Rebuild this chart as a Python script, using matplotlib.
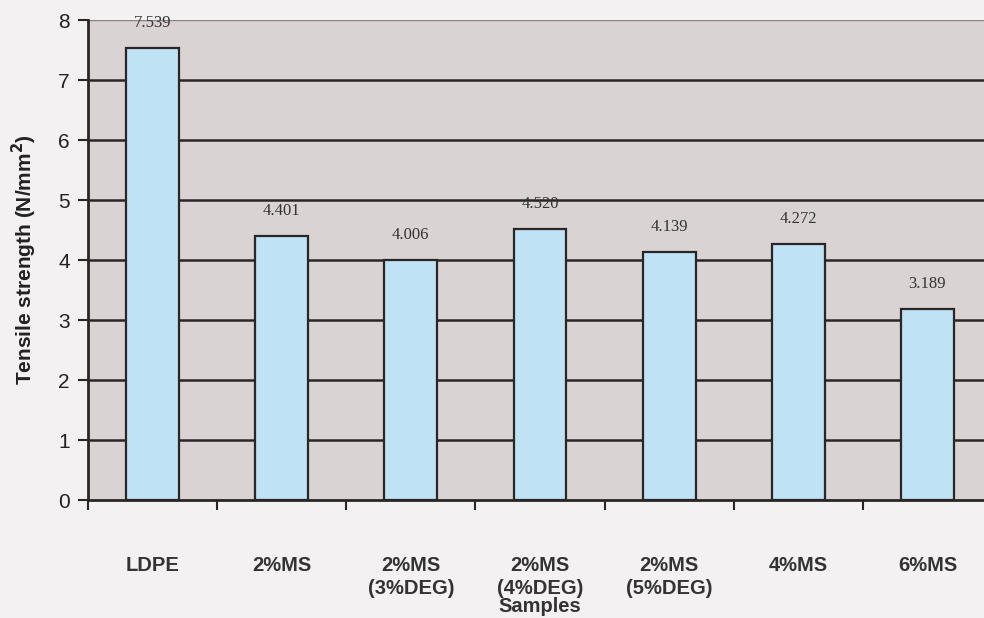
import matplotlib.pyplot as plt
import numpy as np

samples = ["LDPE", "2%MS", "2%MS\n(3%DEG)", "2%MS\n(4%DEG)", "2%MS\n(5%DEG)", "4%MS", "6%MS"]
strength = [7.539, 4.401, 4.006, 4.520, 4.139, 4.272, 3.189]
value_labels = ["7.539", "4.401", "4.006", "4.520", "4.139", "4.272", "3.189"]

fig = plt.figure(figsize=(9.84, 6.18), dpi=100)
fig.patch.set_facecolor("#f3f1f1")

# axes runs past the right edge of the figure, as in the original crop
ax = fig.add_axes([88 / 984, 1 - 500 / 618, 904 / 984, 480 / 618])
ax.set_facecolor("#d9d3d3")

x = np.arange(len(samples))
for y in range(1, 8):
    ax.axhline(y, color="#2b2624", lw=1.8, zorder=1)
ax.axhline(8, color="#8a8484", lw=1.0, zorder=1)

ax.bar(x, strength, width=0.41, color="#bfe3f5", edgecolor="#2b2624", linewidth=1.6, zorder=2)

for xi, v, lab in zip(x, strength, value_labels):
    ax.text(xi, v + 0.28, lab, ha="center", va="bottom", fontsize=12,
            family="Liberation Serif", color="#333")

ax.set_xlim(-0.5, len(samples) - 0.5)
ax.set_ylim(0, 8)
ax.set_yticks(range(0, 9))
ax.tick_params(axis="y", labelsize=15, length=7, width=1.5, color="#2b2624", pad=6,
               labelcolor="#222")
for t in ax.get_yticklabels():
    t.set_family("Liberation Sans")

ax.set_xticks(x)
ax.set_xticklabels(samples, fontsize=14.5, family="Liberation Sans", color="#333",
                   fontweight="bold", linespacing=1.3, va="top")
ax.tick_params(axis="x", length=0, pad=40)
ax.set_xticks(np.arange(-0.5, len(samples), 1), minor=True)
ax.tick_params(axis="x", which="minor", length=7, width=1.5, color="#2b2624")

for s in ["top", "right"]:
    ax.spines[s].set_visible(False)
ax.spines["left"].set_linewidth(2)
ax.spines["bottom"].set_linewidth(2)
ax.spines["left"].set_color("#2b2624")
ax.spines["bottom"].set_color("#2b2624")

ax.set_ylabel("Tensile strength (N/mm$^\\mathbf{2}$)", fontsize=15, fontweight="bold",
              family="Liberation Sans", labelpad=14, color="#222")
ax.set_xlabel("Samples", fontsize=14.5, fontweight="bold", family="Liberation Sans",
              color="#333", va="center")
ax.xaxis.set_label_coords(0.5, -(607 - 500) / 480)

fig.savefig("out.png", dpi=100, facecolor=fig.get_facecolor())
